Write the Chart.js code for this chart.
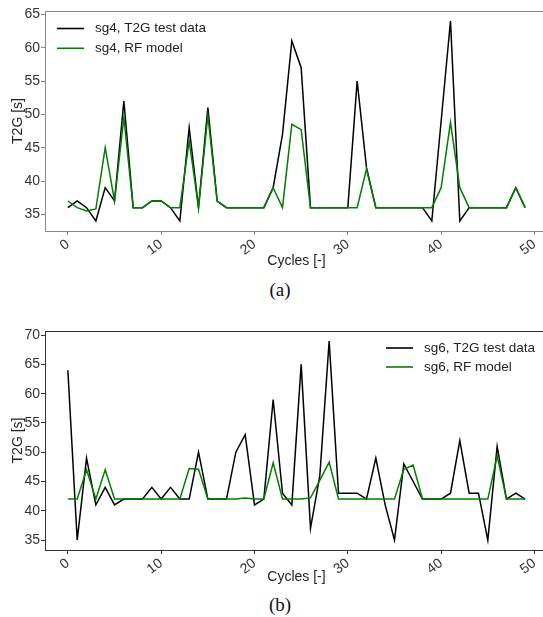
<!DOCTYPE html>
<html>
<head>
<meta charset="utf-8">
<script src="https://cdn.jsdelivr.net/npm/chart.js@4"></script>
<style>
  html, body { margin: 0; padding: 0; background: #fff; overflow: hidden; width: 543px; height: 617px; }
  .panel { position: absolute; left: 0; }
  .caption { position: absolute; width: 100px; left: 230px; text-align: center;
             font-family: "Liberation Serif", "Times New Roman", serif; font-size: 19px; color: #111; }
</style>
</head>
<body>
<div class="panel" style="top:0"><canvas id="chartA" width="560" height="274"></canvas></div>
<div class="caption" style="top:279px">(a)</div>
<div class="panel" style="top:320px"><canvas id="chartB" width="560" height="270"></canvas></div>
<div class="caption" style="top:594px">(b)</div>
<script>
// --- DONNEES ---
const cycles = Array.from({ length: 50 }, (_, i) => i);
const xTicks = [0, 10, 20, 30, 40, 50];

// (a) sg4
const sg4Test = [36, 37, 36, 34, 39, 37, 52, 36, 36, 37, 37, 36, 34, 48, 36, 51, 37, 36, 36, 36,
                 36, 36, 39, 47, 61, 57, 36, 36, 36, 36, 36, 55, 42, 36, 36, 36, 36, 36, 36, 34,
                 49, 64, 34, 36, 36, 36, 36, 36, 39, 36];
const sg4Model = [37, 36, 35.5, 35.8, 45, 37, 49.5, 36, 36, 37, 37, 36, 36, 46, 36, 49.8, 37, 36, 36, 36,
                  36, 36, 39, 36, 48.5, 47.7, 36, 36, 36, 36, 36, 36, 41.8, 36, 36, 36, 36, 36, 36, 36,
                  39, 48.8, 39, 36, 36, 36, 36, 36, 39, 36];
const yTicksA = [35, 40, 45, 50, 55, 60, 65];

// (b) sg6
const sg6Test = [64, 35, 49, 41, 44, 41, 42, 42, 42, 44, 42, 44, 42, 42, 50, 42, 42, 42, 50, 53,
                 41, 42, 59, 43, 41, 65, 37, 46, 69, 43, 43, 43, 42, 49, 41, 35, 48, 45, 42, 42,
                 42, 43, 52, 43, 43, 35, 51, 42, 43, 42];
const sg6Model = [42, 42, 47, 42, 47, 42, 42, 42, 42, 42, 42, 42, 42, 47.2, 47.1, 42, 42, 42, 42, 42.2,
                  42, 42, 48.2, 42, 42, 42, 42.2, 45.2, 48.3, 42, 42, 42, 42, 42, 42, 42, 47.1, 47.8, 42, 42,
                  42, 42, 42, 42, 42, 42, 49.4, 42, 42, 42];
const yTicksB = [35, 40, 45, 50, 55, 60, 65, 70];

const FONT = '"Liberation Sans", Arial, sans-serif';

// cadre complet + légende dessinée dans la zone du graphique
const framePlugin = {
    id: 'frame',
    afterDraw(chart, args, opts) {
        const { ctx, chartArea: a } = chart;
        ctx.save();
        ctx.strokeStyle = opts.color;
        ctx.lineWidth = 1;
        ctx.strokeRect(a.left + 0.5, a.top + 0.5, a.right - a.left, a.bottom - a.top);

        // légende
        ctx.font = '13.5px ' + FONT;
        ctx.textBaseline = 'middle';
        const ds = chart.data.datasets;
        opts.legendRows.forEach((y, i) => {
            ctx.strokeStyle = ds[i].borderColor;
            ctx.lineWidth = 1.6;
            ctx.beginPath();
            ctx.moveTo(opts.legendX, y);
            ctx.lineTo(opts.legendX + 27, y);
            ctx.stroke();
            ctx.fillStyle = '#222';
            ctx.fillText(ds[i].label, opts.legendX + 38, y);
        });
        ctx.restore();
    }
};

function toPoints(vals) {
    return cycles.map((c, i) => ({ x: c, y: vals[i] }));
}

function makeChart(id, cfg) {
    const ctx = document.getElementById(id).getContext('2d');
    return new Chart(ctx, {
        type: 'line',
        data: {
            datasets: [
                { label: cfg.labels[0], data: toPoints(cfg.test), borderColor: '#000000',
                  borderWidth: 1.5, pointRadius: 0, tension: 0, order: 1 },
                { label: cfg.labels[1], data: toPoints(cfg.model), borderColor: '#008000',
                  borderWidth: 1.5, pointRadius: 0, tension: 0, order: 0 }
            ]
        },
        options: {
            responsive: false,
            animation: false,
            devicePixelRatio: 1,
            layout: { padding: { top: 11, right: 12, left: 0, bottom: 0 } },
            plugins: {
                legend: { display: false },
                tooltip: { enabled: false },
                frame: { color: cfg.frameColor, legendX: cfg.legendX, legendRows: cfg.legendRows }
            },
            scales: {
                x: {
                    type: 'linear',
                    min: -2.45,
                    max: 51.45,
                    afterBuildTicks: s => { s.ticks = xTicks.map(v => ({ value: v })); },
                    afterFit: s => { s.height = cfg.xAxisHeight; },
                    ticks: { minRotation: 37, maxRotation: 37, padding: 1, color: '#333',
                             font: { family: FONT, size: 14 } },
                    grid: { drawOnChartArea: false, tickLength: 4, color: cfg.frameColor },
                    border: { color: cfg.frameColor },
                    title: { display: true, text: 'Cycles [-]', color: '#222',
                             font: { family: FONT, size: 14 }, padding: { top: 4, bottom: 4 } }
                },
                y: {
                    min: cfg.yMin,
                    max: cfg.yMax,
                    afterBuildTicks: s => { s.ticks = cfg.yTicks.map(v => ({ value: v })); },
                    afterFit: s => { s.width = 45; },
                    ticks: { padding: 1, color: '#333', font: { family: FONT, size: 14 } },
                    grid: { drawOnChartArea: false, tickLength: 4, color: cfg.frameColor },
                    border: { color: cfg.frameColor },
                    title: { display: true, text: 'T2G [s]', color: '#222',
                             font: { family: FONT, size: 14 }, padding: { top: 10, bottom: 4 } }
                }
            }
        },
        plugins: [framePlugin]
    });
}

makeChart('chartA', {
    labels: ['sg4, T2G test data', 'sg4, RF model'],
    test: sg4Test, model: sg4Model,
    yMin: 32.5, yMax: 65.5, yTicks: yTicksA,
    xAxisHeight: 43, frameColor: '#8a8a8a',
    legendX: 57, legendRows: [28.5, 48.3]
});

makeChart('chartB', {
    labels: ['sg6, T2G test data', 'sg6, RF model'],
    test: sg6Test, model: sg6Model,
    yMin: 33.3, yMax: 70.7, yTicks: yTicksB,
    xAxisHeight: 40, frameColor: '#333333',
    legendX: 386, legendRows: [28, 47]
});
</script>
</body>
</html>
